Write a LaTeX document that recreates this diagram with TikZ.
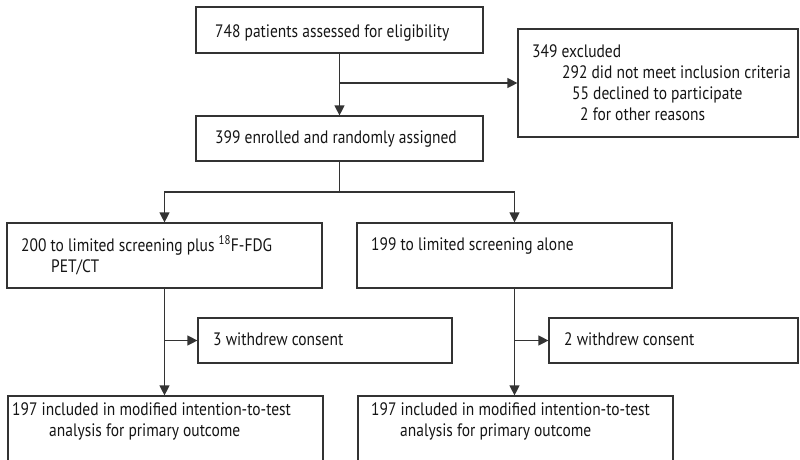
\documentclass[tikz,border=0pt]{standalone}
\usepackage{fontspec}
\setmainfont{PT Sans}[FakeStretch=0.86]
\usetikzlibrary{arrows.meta}

\definecolor{flowline}{HTML}{333333}
\definecolor{flowtext}{HTML}{151515}

\tikzset{
	box/.style={draw=flowline, line width=1.2pt, inner sep=0pt},
	txt/.style={anchor=base west, inner sep=0pt, text=flowtext, align=left,
			font=\fontsize{18}{21}\selectfont},
	link/.style={draw=flowline, line width=1.2pt},
	flow/.style={link, -{Triangle[length=10pt,width=10pt]}}
}

\begin{document}
\begin{tikzpicture}[x=1pt, y=-1pt]
		\useasboundingbox (0, 0) rectangle (800, 459);
		\clip (0, 0) rectangle (800, 459);

		% boxes
		\node[box, minimum width=287pt, minimum height=46pt] (assess) at (339.5, 30) {};
		\node[box, minimum width=287pt, minimum height=45pt] (enrol) at (339.5, 138.5) {};
		\node[box, minimum width=280pt, minimum height=108pt] (excl) at (658, 83) {};
		\node[box, minimum width=315pt, minimum height=65pt] (armpet) at (164.5, 255.5) {};
		\node[box, minimum width=315pt, minimum height=65pt] (armlim) at (514.5, 255.5) {};
		\node[box, minimum width=254pt, minimum height=45pt] (wdpet) at (325, 340.5) {};
		\node[box, minimum width=249pt, minimum height=45pt] (wdlim) at (673.5, 340.5) {};
		\node[box, minimum width=315pt, minimum height=74pt] (ittpet) at (165.5, 433) {};
		\node[box, minimum width=315pt, minimum height=74pt] (ittlim) at (515.5, 433) {};

		% texts (multi-line ones sit on their last baseline)
		\node[txt] (assesstxt) at (215, 37) {748 patients assessed for eligibility};
		\node[txt] (enroltxt) at (215, 143) {399 enrolled and randomly assigned};
		\node[txt] (excltxt) at (532, 120) {349 excluded\\
				\hspace{30pt}292 did not meet inclusion criteria\\
				\hspace{40pt}55 declined to participate\\
				\hspace{48pt}2 for other reasons};
		\node[txt] (armpettxt) at (21, 272) {200 to limited screening plus \textsuperscript{18}F-FDG\\
				\hspace{30pt}PET/CT};
		\node[txt] (armlimtxt) at (371, 250) {199 to limited screening alone};
		\node[txt] (wdpettxt) at (213, 345) {3 withdrew consent};
		\node[txt] (wdlimtxt) at (564, 345) {2 withdrew consent};
		\node[txt] (ittpettxt) at (12, 436) {197 included in modified intention-to-test\\
				\hspace{37pt}analysis for primary outcome};
		\node[txt] (ittlimtxt) at (371, 436) {197 included in modified intention-to-test\\
				\hspace{29pt}analysis for primary outcome};

		% connectors
		\coordinate (split) at (339.5, 192);
		\draw[flow] (assess.south) -- (enrol.north);
		\draw[flow] (assess.south |- excl.west) -- (excl.west);
		\draw[link] (enrol.south) -- (split);
		\draw[flow] (split) -| (armpet.north);
		\draw[flow] (split) -| (armlim.north);

		\draw[flow] (armpet.south) -- (armpet.south |- ittpet.north);
		\draw[flow] (armpet.south |- wdpet.west) -- (wdpet.west);
		\draw[flow] (armlim.south) -- (armlim.south |- ittlim.north);
		\draw[flow] (armlim.south |- wdlim.west) -- (wdlim.west);
	\end{tikzpicture}
\end{document}
